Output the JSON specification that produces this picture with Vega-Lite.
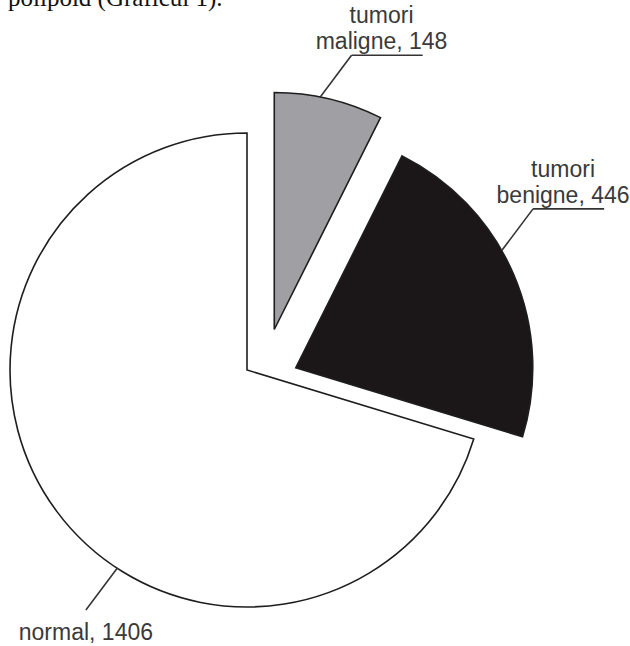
{
  "$schema": "https://vega.github.io/schema/vega-lite/v6.json",
  "width": 630,
  "height": 646,
  "padding": 0,
  "autosize": {"type": "none"},
  "background": "white",
  "view": {"stroke": null},
  "title": {
    "text": "polipoid (Graficul 1).",
    "font": "Liberation Serif",
    "fontSize": 25,
    "fontWeight": "normal",
    "color": "#111111",
    "anchor": "start",
    "frame": "group",
    "orient": "top",
    "baseline": "alphabetic",
    "offset": -31,
    "dx": 8
  },
  "data": {
    "values": [
      {"category": "tumori maligne", "count": 148},
      {"category": "tumori benigne", "count": 446},
      {"category": "normal", "count": 1406}
    ]
  },
  "transform": [
    {"joinaggregate": [{"op": "sum", "field": "count", "as": "total"}]},
    {"window": [{"op": "sum", "field": "count", "as": "cum"}], "sort": [{"field": "count", "order": "ascending"}], "frame": [null, 0]},
    {"calculate": "datum.cum - datum.count", "as": "c0"},
    {"calculate": "2 * PI * datum.c0 / datum.total", "as": "t0"},
    {"calculate": "2 * PI * datum.cum / datum.total", "as": "t1"},
    {"calculate": "(datum.t0 + datum.t1) / 2", "as": "mid"},
    {"calculate": "datum.count * 2 < datum.total ? 0.206 : 0", "as": "ex"},
    {"calculate": "datum.ex * sin(datum.mid + 0.36)", "as": "cx"},
    {"calculate": "datum.ex * cos(datum.mid + 0.36)", "as": "cy"},
    {"calculate": "2 * PI * (datum.c0 + 0.42 * datum.count) / datum.total", "as": "la"},
    {"calculate": "datum.cx + sin(datum.la)", "as": "ax"},
    {"calculate": "datum.cy + cos(datum.la)", "as": "ay"},
    {"calculate": "sin(datum.la) >= 0 ? 1 : -1", "as": "sx"},
    {"calculate": "cos(datum.la) >= 0 ? 1 : -1", "as": "sy"},
    {"calculate": "datum.ax + 0.22 * 0.6 * datum.sx", "as": "bx"},
    {"calculate": "datum.ay + 0.22 * 0.8 * datum.sy", "as": "by"},
    {"calculate": "datum.bx + (datum.sx > 0 ? 0.3 : 0)", "as": "hx"},
    {"calculate": "replace(datum.category, ' ', '\\n') + ', ' + datum.count", "as": "label"}
  ],
  "layer": [
    {
      "mark": {"type": "arc", "radius": 237, "stroke": "#1e1e1e", "strokeWidth": 1.6, "strokeJoin": "miter"},
      "encoding": {
        "theta": {"field": "t0", "type": "quantitative", "stack": null, "scale": null},
        "theta2": {"field": "t1"},
        "x": {"field": "cx", "type": "quantitative", "axis": null, "scale": {"domain": [-1.0422, 1.616], "nice": false, "zero": false}},
        "y": {"field": "cy", "type": "quantitative", "axis": null, "scale": {"domain": [-1.1646, 1.5612], "nice": false, "zero": false}},
        "color": {
          "field": "category",
          "type": "nominal",
          "legend": null,
          "scale": {"domain": ["tumori maligne", "tumori benigne", "normal"], "range": ["#a09fa3", "#1b1718", "#ffffff"]}
        }
      }
    },
    {
      "mark": {"type": "rule", "stroke": "#333333", "strokeWidth": 1.6},
      "encoding": {
        "x": {"field": "ax", "type": "quantitative", "axis": null, "scale": {"domain": [-1.0422, 1.616], "nice": false, "zero": false}},
        "y": {"field": "ay", "type": "quantitative", "axis": null, "scale": {"domain": [-1.1646, 1.5612], "nice": false, "zero": false}},
        "x2": {"field": "bx"},
        "y2": {"field": "by"}
      }
    },
    {
      "transform": [{"filter": "datum.sx > 0"}],
      "mark": {"type": "rule", "stroke": "#333333", "strokeWidth": 1.6},
      "encoding": {
        "x": {"field": "bx", "type": "quantitative", "axis": null, "scale": {"domain": [-1.0422, 1.616], "nice": false, "zero": false}},
        "y": {"field": "by", "type": "quantitative", "axis": null, "scale": {"domain": [-1.1646, 1.5612], "nice": false, "zero": false}},
        "x2": {"field": "hx"},
        "y2": {"field": "by"}
      }
    },
    {
      "transform": [{"filter": "datum.sx > 0"}],
      "mark": {"type": "text", "font": "Liberation Sans", "fontSize": 23, "color": "#3a3a3a", "lineHeight": 26, "lineBreak": "\n", "align": "center", "baseline": "bottom", "dx": 30, "dy": -27},
      "encoding": {
        "x": {"field": "bx", "type": "quantitative", "axis": null, "scale": {"domain": [-1.0422, 1.616], "nice": false, "zero": false}},
        "y": {"field": "by", "type": "quantitative", "axis": null, "scale": {"domain": [-1.1646, 1.5612], "nice": false, "zero": false}},
        "text": {"field": "label"}
      }
    },
    {
      "transform": [{"filter": "datum.sx < 0"}],
      "mark": {"type": "text", "font": "Liberation Sans", "fontSize": 23, "color": "#3a3a3a", "lineHeight": 26, "lineBreak": "\n", "align": "center", "baseline": "top", "dy": 12},
      "encoding": {
        "x": {"field": "bx", "type": "quantitative", "axis": null, "scale": {"domain": [-1.0422, 1.616], "nice": false, "zero": false}},
        "y": {"field": "by", "type": "quantitative", "axis": null, "scale": {"domain": [-1.1646, 1.5612], "nice": false, "zero": false}},
        "text": {"field": "label"}
      }
    }
  ]
}
